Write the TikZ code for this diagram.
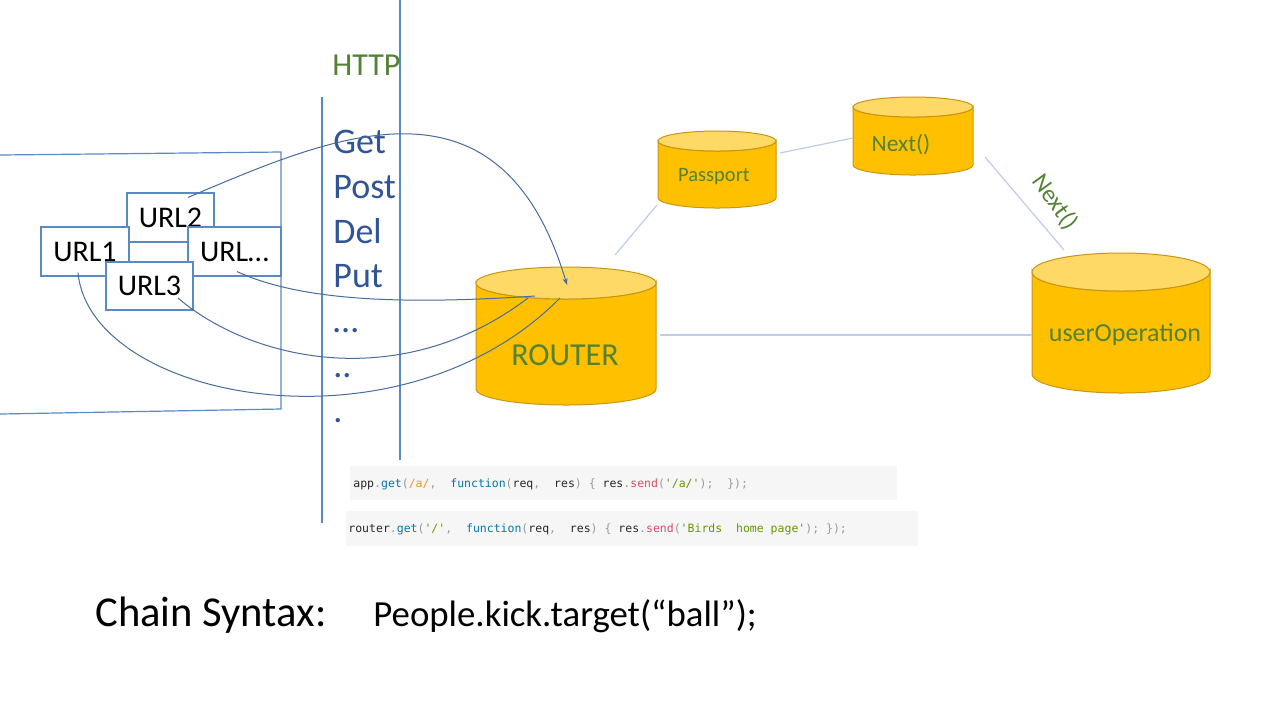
\documentclass[tikz,border=0pt]{standalone}
\usepackage{fontspec}
\setmainfont{Carlito}
\setmonofont{DejaVu Sans Mono}
\usetikzlibrary{arrows.meta,calc}
\definecolor{boxblue}{RGB}{91,137,196}
\definecolor{curveblue}{RGB}{70,108,160}
\definecolor{connc}{RGB}{190,206,232}
\definecolor{cylfill}{RGB}{255,192,0}
\definecolor{cyltopc}{RGB}{255,217,102}
\definecolor{cylline}{RGB}{200,150,20}
\definecolor{txtgreen}{RGB}{84,130,53}
\definecolor{txtblue}{RGB}{47,85,151}
\definecolor{codebg}{RGB}{246,246,246}
\definecolor{cdark}{RGB}{40,40,40}
\definecolor{cpunct}{RGB}{153,153,153}
\definecolor{cblue}{RGB}{0,119,170}
\definecolor{corange}{RGB}{230,150,40}
\definecolor{cpink}{RGB}{221,74,104}
\definecolor{cgreen}{RGB}{102,153,0}
\newcommand{\cpn}[1]{\textcolor{cpunct}{#1}}
\newcommand{\cbl}[1]{\textcolor{cblue}{#1}}
\newcommand{\drawcyl}[6]{% name, cx, ytop, rx, ry, ybot (pixels, y downward)
  \path[cylside] ({#2-#4},{-(#3+#5)}) -- ({#2-#4},{-(#6-#5)})
    arc[start angle=180,end angle=360,x radius={#4*0.5pt},y radius={#5*0.5pt}]
    -- ({#2+#4},{-(#3+#5)})
    arc[start angle=0,end angle=-180,x radius={#4*0.5pt},y radius={#5*0.5pt}] -- cycle;
  \path[cyltop] (#2,{-(#3+#5)}) ellipse[x radius={#4*0.5pt},y radius={#5*0.5pt}];
  \node[cylbox, minimum width={#4*1pt}, minimum height={(#6-#3)*0.5pt}] (#1) at (#2,{-(#3+#6)/2}) {};
}
\tikzset{
  urlbox/.style={draw=boxblue, line width=0.6pt, fill=white, rectangle, inner sep=0pt, text=black, font=\fontsize{15}{18}\selectfont},
  cylside/.style={fill=cylfill, draw=cylline, line width=0.5pt},
  cyltop/.style={fill=cyltopc, draw=cylline, line width=0.5pt},
  cylbox/.style={rectangle, inner sep=0pt, outer sep=0pt},
  conn/.style={draw=connc, line width=0.6pt},
  curve/.style={draw=curveblue, line width=0.5pt},
  frameline/.style={draw=boxblue, line width=0.6pt},
  methodtxt/.style={anchor=base west, inner sep=0pt, text=txtblue, font=\fontsize{18}{20}\selectfont},
  cyltxt/.style={text=txtgreen, inner sep=0pt},
  codetxt/.style={anchor=west, inner sep=0pt, text=cdark, font=\ttfamily\fontsize{5.75}{7}\selectfont},
  bigtxt/.style={anchor=base west, inner sep=0pt, text=black},
}
\begin{document}
\begin{tikzpicture}[x=0.5pt,y=0.5pt]
\useasboundingbox (0,0) rectangle (1280,-720);
\fill[white] (0,0) rectangle (1280,-720);

% frame and vertical lines
\draw[frameline] (0,-155) -- (281,-152) -- (281,-409) -- (0,-414);
\draw[frameline] (322,-97) -- (322,-523);
\draw[frameline] (400,0) -- (400,-460);

% URL boxes
\node[urlbox, minimum width=43.5pt, minimum height=24.5pt] (url2) at (170.5,-217.5) {URL2};
\node[urlbox, minimum width=44pt, minimum height=24.5pt] (url1) at (85,-251.5) {URL1};
\node[urlbox, minimum width=46.5pt, minimum height=24.5pt] (urlx) at (234.5,-251.5) {URL…};
\node[urlbox, minimum width=43.5pt, minimum height=24pt] (url3) at (149.5,-286) {URL3};

% HTTP and methods
\node[anchor=base west, inner sep=0pt, text=txtgreen, font=\fontsize{16}{18}\selectfont] (http) at (332,-75) {HTTP};
\node[methodtxt] (m1) at (333,-153) {Get};
\node[methodtxt] (m2) at (333,-198) {Post};
\node[methodtxt] (m3) at (333,-243) {Del};
\node[methodtxt] (m4) at (333,-287) {Put};
\node[methodtxt] (m5) at (333,-332) {…};
\node[methodtxt] (m6) at (333,-377) {..};
\node[methodtxt] (m7) at (333,-422) {.};

% cylinders
\drawcyl{router}{566}{267}{90}{16}{405}
\drawcyl{passport}{717}{131}{59}{10}{208}
\drawcyl{nextc}{913}{97}{60}{10}{175}
\drawcyl{userop}{1121}{253}{89}{19}{393}
\node[cyltxt, font=\fontsize{16}{18}\selectfont] (routertxt) at (565,-355) {ROUTER};
\node[cyltxt, font=\fontsize{10.25}{12}\selectfont] (passtxt) at (714,-177) {Passport};
\node[cyltxt, font=\fontsize{11.7}{14}\selectfont] (nexttxt) at (901,-145) {Next()};
\node[cyltxt, font=\fontsize{13}{15}\selectfont] (usertxt) at (1125,-335) {userOperation};

% connectors between cylinders
\draw[conn] ([shift={(49,12)}]router.north) -- ([shift={(-1,3)}]passport.south west);
\draw[conn] ([shift={(4,16.5)}]passport.east) -- ([shift={(0,-2)}]nextc.west);
\draw[conn] ([shift={(12,-21)}]nextc.east) -- ([shift={(-57,3)}]userop.north);
\draw[conn] ([shift={(4,1)}]router.east) -- ([shift={(0,-12)}]userop.west);
\node[cyltxt, rotate=-54, font=\fontsize{12.3}{14}\selectfont] (lblnext) at (1055,-202) {Next()};

% curves from URLs to router
\draw[curve, -{Stealth[length=3.5pt,width=2.5pt]}] ([shift={(17.5,-5)}]url2.north) .. controls +(142,60) and +(-67,225) .. ([shift={(1,-18)}]router.north);
\draw[curve] ([shift={(2.5,5)}]urlx.south) .. controls +(63,-29) and +(-135,-9) .. ([shift={(-31,-29)}]router.north);
\draw[curve] ([shift={(28.5,-12)}]url3.center) .. controls +(72,-62) and +(-128,-97) .. ([shift={(-38,-31)}]router.north);
\draw[curve] ([shift={(-7,4)}]url1.south) .. controls +(12,-128) and +(-160,-162) .. ([shift={(-6,-31)}]router.north);

% code snippets
\fill[codebg] (350,-466) rectangle (897,-500);
\fill[codebg] (346,-511) rectangle (918,-546);
\node[codetxt] (code1) at (353,-484) {app\cpn{.}\cbl{get}\cpn{(}\textcolor{corange}{/a/}\cpn{,}~~\cbl{function}\cpn{(}req\cpn{,}~~res\cpn{)}~\cpn{\{}~res\cpn{.}\textcolor{cpink}{send}\cpn{(}\textcolor{cgreen}{'/a/'}\cpn{);}~~\cpn{\});}};
\node[codetxt] (code2) at (348,-529) {router\cpn{.}\cbl{get}\cpn{(}\textcolor{cgreen}{'/'}\cpn{,}~~\cbl{function}\cpn{(}req\cpn{,}~~res\cpn{)}~\cpn{\{}~res\cpn{.}\textcolor{cpink}{send}\cpn{(}\textcolor{cgreen}{'Birds~~home page'}\cpn{);}~\cpn{\});}};

% chain syntax
\node[bigtxt, font=\fontsize{21.3}{24}\selectfont] (chain) at (95,-626) {Chain Syntax:};
\node[bigtxt, font=\fontsize{18.4}{22}\selectfont] (people) at (373,-626) {People.kick.target(“ball”);};
\end{tikzpicture}
\end{document}
